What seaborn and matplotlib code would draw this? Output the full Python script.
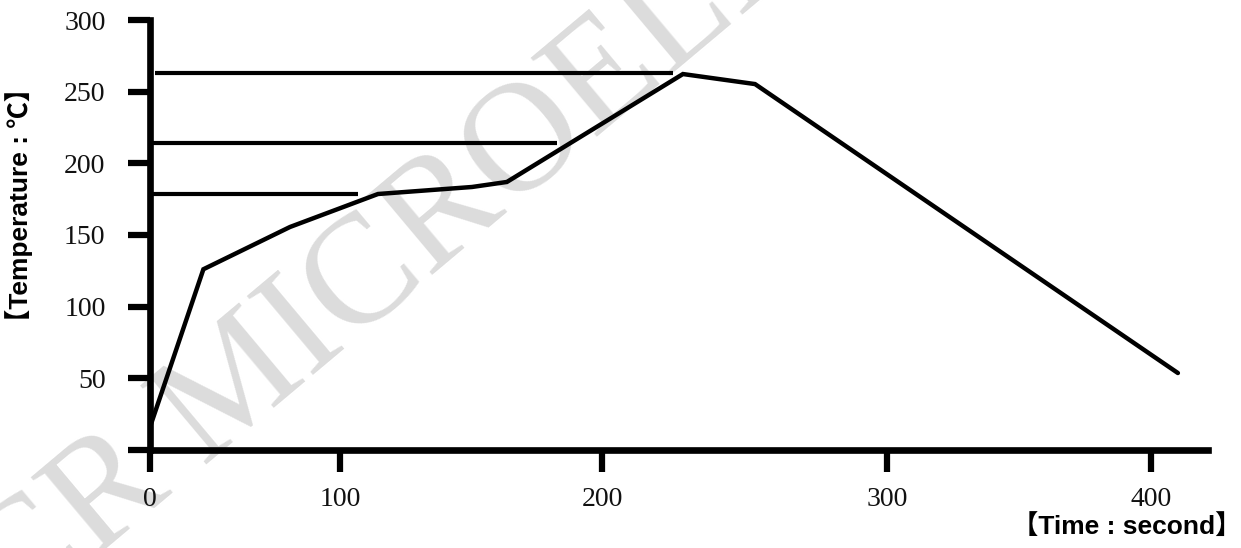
import numpy as np
import matplotlib
matplotlib.use("Agg")
import matplotlib.pyplot as plt
import seaborn as sns

# ---- data ----
time_s = [0, 28.1, 73.7, 114.5, 150.4, 163.7, 228.4, 253.7, 410.2]
temp_c = [16.0, 126.1, 155.6, 178.6, 183.5, 187.0, 262.3, 255.3, 53.7]

ref_temp = [263.0, 214.2, 178.6]
ref_start = [2.6, 0.0, 0.0]
ref_end = [224.9, 182.8, 106.9]

x_ticks = [0, 100, 200, 300, 400]
y_ticks = [0, 50, 100, 150, 200, 250, 300]
y_ticklabels = ["", "50", "100", "150", "200", "250", "300"]

# the drawing's time axis is not evenly spaced: knots of a piecewise scale
knot_sec = [-1000, 0, 100, 200, 300, 400, 2000]
knot_pos = [-1900, 0, 190, 452, 737, 1001, 1001 + 1600 * 2.64]

def fwd(x):
    return np.interp(x, knot_sec, knot_pos)

def inv(p):
    return np.interp(p, knot_pos, knot_sec)

sns.set_theme(style="ticks")
plt.rcParams['font.family'] = ['Liberation Sans', 'Noto Sans CJK SC', 'DejaVu Sans']

W, H = 1241, 548
fig = plt.figure(figsize=(W / 100, H / 100), dpi=100)
ax = fig.add_axes([150 / W, (H - 450) / H, 1058 / W, 430 / H])
ax.set_zorder(2)

# watermark (behind the chart)
fig.text(15 / W, 1 - 625 / H, "CR MICROELECTRONICS", rotation=40,
         rotation_mode='anchor', ha='left', va='baseline',
         fontsize=112, family='Liberation Serif', color='#dcdcdc', zorder=0)

ax.set_xscale('function', functions=(fwd, inv))
ax.patch.set_alpha(0)

sns.lineplot(x=time_s, y=temp_c, ax=ax, color='black', lw=3.2,
             sort=False, estimator=None, solid_joinstyle='miter')
ax.hlines(ref_temp, ref_start, ref_end, colors='black', lw=3.0)

ax.set_xlim(0, 421.6)
ax.set_ylim(0, 300)
ax.set_xticks(x_ticks)
ax.set_xticklabels([str(v) for v in x_ticks])
ax.set_yticks(y_ticks)
ax.set_yticklabels(y_ticklabels)
ax.xaxis.set_minor_locator(matplotlib.ticker.NullLocator())

for s in ['top', 'right']:
    ax.spines[s].set_visible(False)
for s in ['left', 'bottom']:
    ax.spines[s].set_linewidth(4.8)
    ax.spines[s].set_color('black')

ax.tick_params(axis='both', direction='out', length=16, width=4.5,
               color='black', labelsize=20, labelcolor='#111111')
ax.tick_params(axis='x', pad=11)
ax.tick_params(axis='y', pad=16)
for lab in ax.get_xticklabels() + ax.get_yticklabels():
    lab.set_family('Liberation Serif')

ax.set_ylabel("【Temperature : ℃】", fontsize=19, fontweight='bold', color='black')
ax.yaxis.label.set_va('center')
ax.yaxis.set_label_coords((19 - 150) / 1058, (450 - 205) / 430)
ax.set_xlabel("")
fig.text(1241 / W, 1 - 526 / H, "【Time : second】", ha='right', va='center',
         fontsize=19, fontweight='bold', color='black')

fig.savefig("out.png", dpi=100, facecolor='white')
